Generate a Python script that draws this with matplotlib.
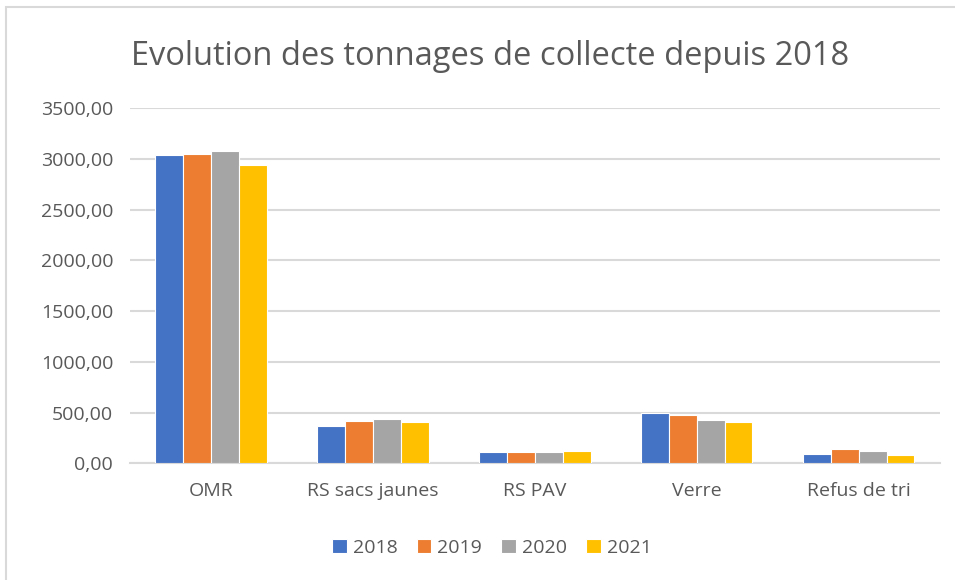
import matplotlib.pyplot as plt
import numpy as np
from matplotlib.patches import Rectangle

# Données (tonnes)
categories = ['OMR', 'RS sacs jaunes', 'RS PAV', 'Verre', 'Refus de tri']
annees = ['2018', '2019', '2020', '2021']
t2018 = [3036, 372, 110, 500, 93]
t2019 = [3049, 421, 110, 474, 143]
t2020 = [3073, 435, 110, 425, 120]
t2021 = [2935, 408, 120, 408, 80]
couleurs = ['#4472C4', '#ED7D31', '#A5A5A5', '#FFC000']

plt.rcParams['font.family'] = ['Open Sans', 'DejaVu Sans']

fig = plt.figure(figsize=(9.55, 5.8), dpi=100)
ax = fig.add_axes([0.136, 0.2009, 0.848, 0.6129])

x = np.arange(len(categories))
larg = 0.172
series = [t2018, t2019, t2020, t2021]
for i, (vals, c, lab) in enumerate(zip(series, couleurs, annees)):
    ax.bar(x + (i - 1.5) * larg, vals, width=larg, color=c, edgecolor='white',
           linewidth=0.8, label=lab, zorder=3)

ax.set_xlim(-0.5, len(categories) - 0.5)
ax.set_ylim(0, 3500)
ax.set_yticks(np.arange(0, 3501, 500))
ax.set_yticklabels([f'{v},00' for v in range(0, 3501, 500)])
ax.set_xticks(x)
ax.set_xticklabels(categories)
ax.grid(axis='y', color='#D9D9D9', linewidth=1.5, zorder=0)
for s in ['top', 'right', 'left']:
    ax.spines[s].set_visible(False)
ax.spines['bottom'].set_color('#D9D9D9')
ax.spines['bottom'].set_linewidth(1.5)
ax.tick_params(axis='both', length=0, colors='#595959', labelsize=14)
ax.tick_params(axis='x', pad=13)
ax.tick_params(axis='y', pad=12)

fig.text(0.513, 0.903, 'Evolution des tonnages de collecte depuis 2018',
         ha='center', va='center', fontsize=23.5, color='#595959')

leg = fig.legend(loc='center', bbox_to_anchor=(0.515, 0.055), ncol=4,
                 frameon=False, fontsize=14, handlelength=0.75, handleheight=0.75,
                 columnspacing=1.0, handletextpad=0.3)
for t in leg.get_texts():
    t.set_color('#595959')

# cadre du graphique
fig.patches.append(Rectangle((0.006, -0.01), 1.0, 0.998, transform=fig.transFigure,
                             fill=False, edgecolor='#D9D9D9', linewidth=1.5))

fig.savefig('out.png', dpi=100)
